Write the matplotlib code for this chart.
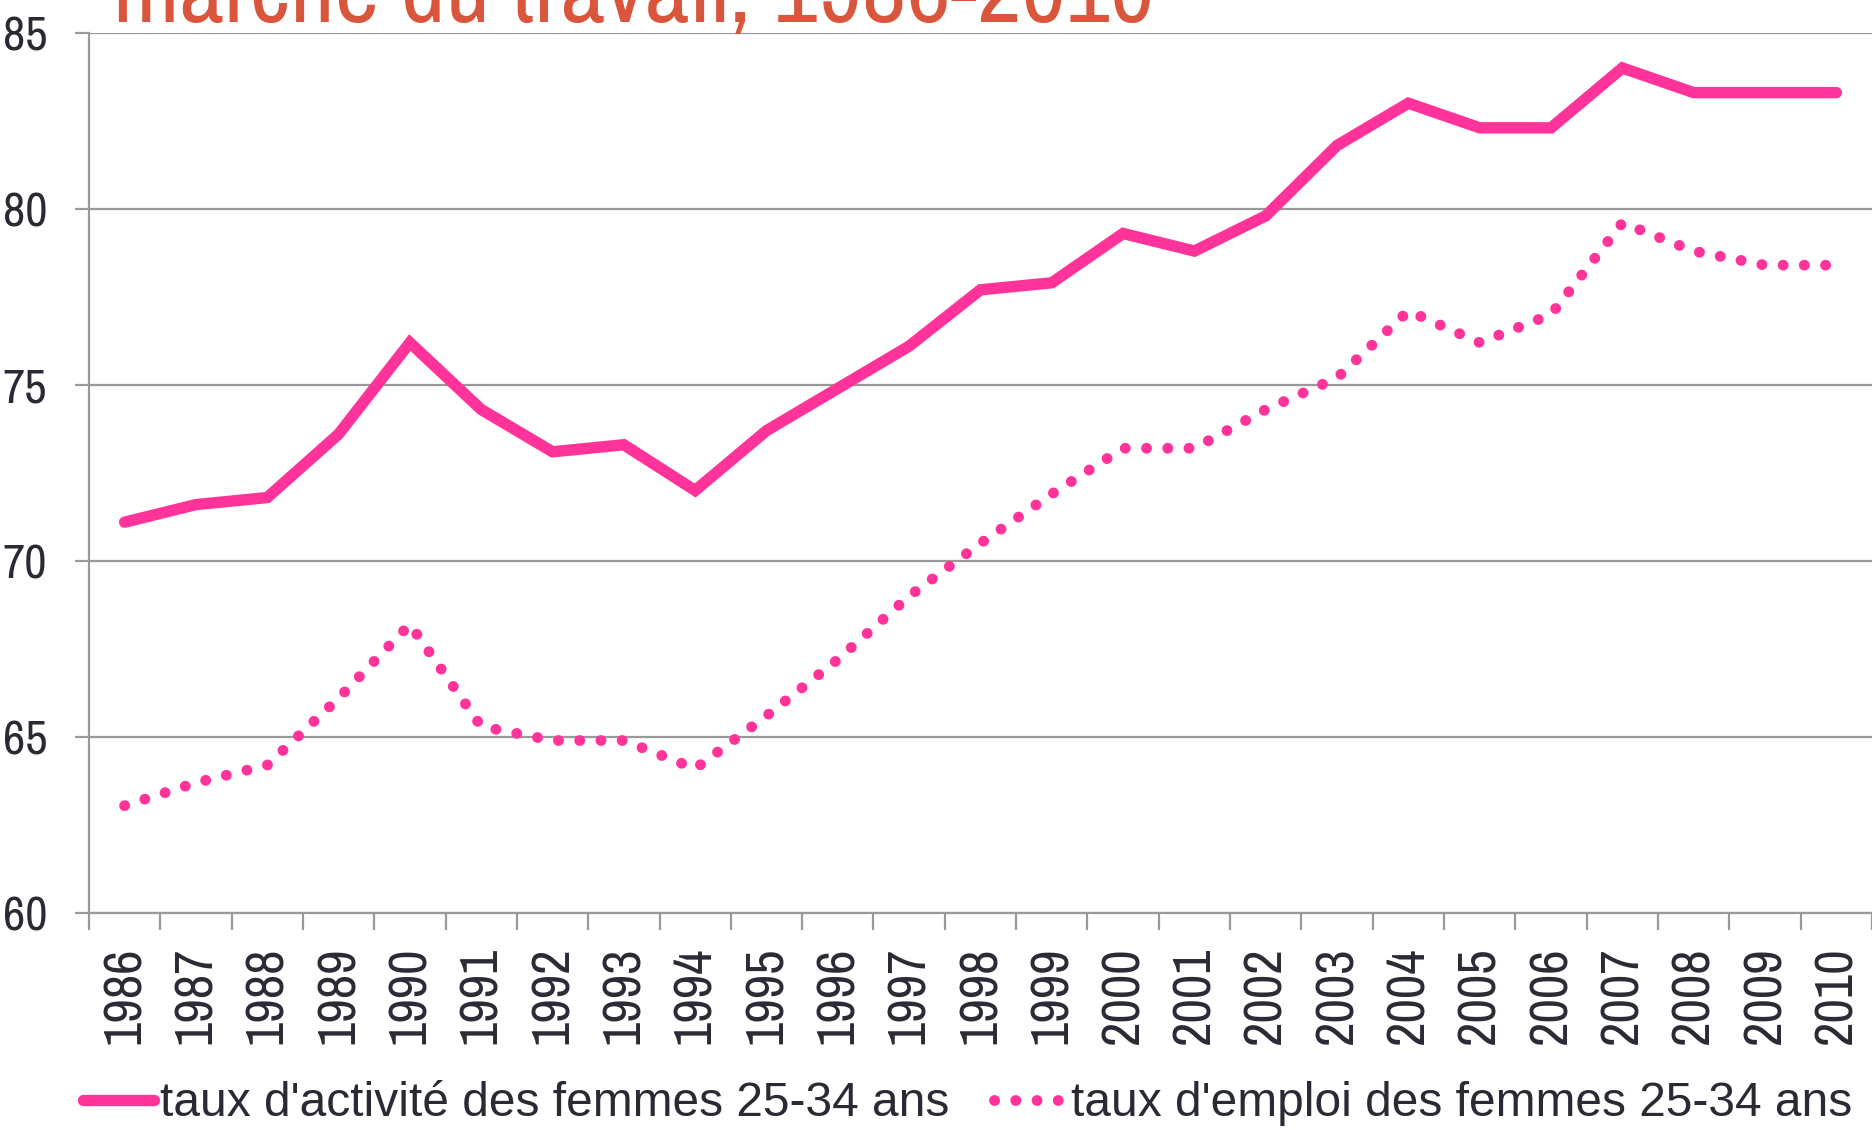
import matplotlib.pyplot as plt

# --- data ---
years = [str(y) for y in range(1986, 2011)]
activite = [71.1, 71.6, 71.8, 73.6, 76.2, 74.3, 73.1, 73.3, 72.0, 73.7,
            74.9, 76.1, 77.7, 77.9, 79.3, 78.8, 79.8, 81.8, 83.0, 82.3,
            82.3, 84.0, 83.3, 83.3, 83.3]
emploi = [63.05, 63.7, 64.2, 66.1, 68.2, 65.3, 64.9, 64.9, 64.1, 65.6,
          67.2, 69.0, 70.5, 71.9, 73.2, 73.2, 74.3, 75.2, 77.1, 76.2,
          77.0, 79.6, 78.8, 78.4, 78.4]
yticks = [60, 65, 70, 75, 80, 85]

label_act = "taux d'activité des femmes 25-34 ans"
label_emp = "taux d'emploi des femmes 25-34 ans"
title = "marché du travail, 1986-2010"

NARROW = ['Archivo Narrow', 'Roboto Condensed', 'PT Sans Narrow', 'DejaVu Sans']
plt.rcParams['font.family'] = NARROW

PINK = '#ff3399'
TXT = '#2a2a35'
GRID = '#999999'

fig = plt.figure(figsize=(18.72, 11.3), dpi=100)
ax = fig.add_axes([0.0475, 0.192, 0.9525, 0.779])

x = list(range(len(years)))
ax.plot(x, activite, color=PINK, lw=8.2, solid_capstyle='round',
        solid_joinstyle='miter', label=label_act)
ax.plot(x, emploi, color=PINK, lw=7.8, dashes=(0.01, 1.95),
        dash_capstyle='round', label=label_emp)

ax.set_xlim(-0.5, len(years) - 0.5)
ax.set_ylim(60, 85)
ax.set_yticks(yticks)
ax.set_yticklabels([str(v) for v in yticks])
# category boundaries get the tick marks, centres get the labels
ax.set_xticks([i - 0.5 for i in range(len(years) + 1)])
ax.set_xticklabels([])
ax.set_xticks(x, minor=True)
ax.set_xticklabels(years, minor=True, rotation=90, va='top', ha='center')

ax.grid(axis='y', color=GRID, lw=1.6)
ax.set_axisbelow(True)
for s in ['top', 'right']:
    ax.spines[s].set_visible(False)
for s in ['left', 'bottom']:
    ax.spines[s].set_color(GRID)
    ax.spines[s].set_linewidth(1.6)

ax.tick_params(axis='y', length=10, width=1.6, color=GRID, pad=20,
               labelsize=35, labelcolor=TXT)
ax.tick_params(axis='x', which='major', length=12, width=1.6, color=GRID)
ax.tick_params(axis='x', which='minor', length=0, pad=24,
               labelsize=38.5, labelcolor=TXT)

fig.text(113 / 1872, 1 - 22 / 1130, title, color='#d9553b', fontsize=70,
         ha='left', va='baseline')

fig.legend(loc='center', bbox_to_anchor=(0.517, 1 - 1104 / 1130), ncol=2,
           frameon=False, prop={'family': ['Liberation Sans', 'DejaVu Sans'],
                                'size': 34.5},
           handlelength=1.48, handletextpad=0.12, columnspacing=0.94,
           labelcolor=TXT, borderaxespad=0)

fig.savefig('out.png', dpi=100)
